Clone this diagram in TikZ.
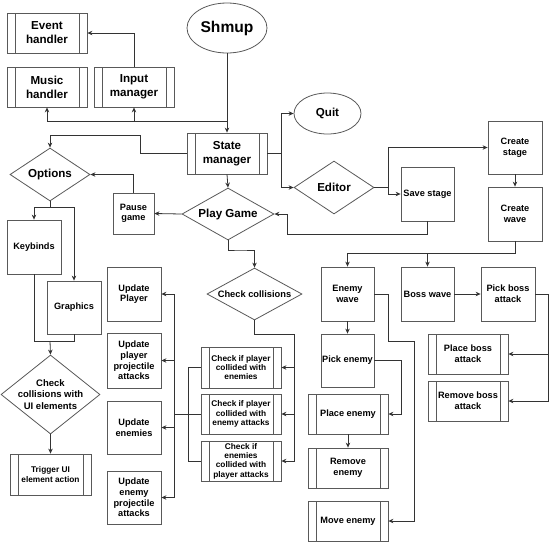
\documentclass[tikz,border=0pt]{standalone}
\usepackage{fontspec}
\setmainfont{Liberation Sans}
\usetikzlibrary{shapes.geometric,arrows.meta}
\begin{document}
\begin{tikzpicture}[x=1pt,y=-1pt,
  base/.style={draw=black!65, line width=0.8pt, fill=white, inner sep=0pt, align=center, text=black, font=\bfseries\fontsize{9.2}{10.6}\selectfont},
  box/.style={base, rectangle},
  sz/.style 2 args={minimum width=#1pt, minimum height=#2pt},
  proc/.style={box, path picture={\draw[draw=black!65, line width=0.8pt]
     ([xshift=8pt]path picture bounding box.north west) -- ([xshift=8pt]path picture bounding box.south west)
     ([xshift=-8pt]path picture bounding box.north east) -- ([xshift=-8pt]path picture bounding box.south east);}},
  big/.style={font=\bfseries\fontsize{11.6}{14}\selectfont},
  small/.style={font=\bfseries\fontsize{8.3}{9.3}\selectfont},
  dia/.style={base, diamond},
  oval/.style={base, ellipse},
  dtxt/.style 2 args={align=center, text=black, inner sep=0pt, font=\bfseries\fontsize{#1}{#2}\selectfont},
  ln/.style={line width=0.8pt, draw=black!80},
  arr/.style={ln, -{Stealth[length=5pt,width=4.5pt]}}
]
\useasboundingbox (0,0) rectangle (554,542);

% top area
\node[oval, sz={80}{50}, font=\bfseries\fontsize{15.6}{18}\selectfont] (shmup) at (227,28) {Shmup};
\node[proc, big, sz={80}{40}] (event) at (47,33) {Event\\handler};
\node[proc, big, sz={80}{40}] (music) at (47,87) {Music\\handler};
\node[proc, big, sz={80}{40}] (input) at (134,87) {Input\\manager};
\node[proc, big, sz={80}{41}] (state) at (227,153.5) {State\\manager};
\node[oval, big, sz={67}{41}] (quit) at (327.5,113.5) {Quit};
\node[dia, sz={80}{53}, label={[dtxt={11.6}{14}]center:Editor}] (editor) at (334,187.5) {};
\node[dia, sz={80}{53}, label={[dtxt={11.6}{14}]center:Options}] (options) at (50,174.5) {};
\node[box, sz={41}{41}] (pause) at (133.5,213.5) {Pause\\game};
\node[dia, sz={92}{52}, label={[dtxt={11.6}{14}]center:Play Game}] (play) at (228,214) {};
\node[box, sz={53}{54}] (savestage) at (427.5,194) {Save stage};
\node[box, sz={54}{53}] (createstage) at (515,147.5) {Create\\stage};
\node[box, sz={54}{54}] (createwave) at (515,214) {Create\\wave};

% left column
\node[box, sz={54}{54}] (keybinds) at (34,247) {Keybinds};
\node[box, sz={54}{53}] (graphics) at (74,307.5) {Graphics};
\node[dia, sz={99}{79}, label={[dtxt={9.5}{11.2}]center:Check\\collisions with\\UI elements}] (checkui) at (50.5,394.5) {};
\node[proc, small, sz={81}{41}] (trigger) at (50.5,474.5) {Trigger UI\\element action};

% update column
\node[box, sz={54}{54}] (updplayer) at (134,294) {Update\\Player};
\node[box, sz={54}{55}] (updproj) at (134,360.5) {Update\\player\\projectile\\attacks};
\node[box, sz={54}{53}] (updenemies) at (134,427.5) {Update\\enemies};
\node[box, sz={54}{53}] (updenemyproj) at (134,497.5) {Update\\enemy\\projectile\\attacks};

% collisions
\node[dia, sz={95}{52}, label={[dtxt={9.3}{11}]center:Check collisions}] (checkcoll) at (254.5,294) {};
\node[proc, small, sz={80}{41}] (cp1) at (241,367.5) {Check if player\\collided with\\enemies};
\node[proc, small, sz={80}{40}] (cp2) at (241,414) {Check if player\\collided with\\enemy attacks};
\node[proc, small, sz={80}{40}] (cp3) at (241,461) {Check if\\enemies\\collided with\\player attacks};

% waves
\node[box, sz={53}{54}] (enemywave) at (347.5,294) {Enemy\\wave};
\node[box, sz={53}{54}] (bosswave) at (427.5,294) {Boss wave};
\node[box, sz={54}{54}] (pickboss) at (508,294) {Pick boss\\attack};
\node[box, sz={53}{53}] (pickenemy) at (347.5,360.5) {Pick enemy};
\node[proc, sz={80}{40}] (placeenemy) at (348,414) {Place enemy};
\node[proc, sz={80}{40}] (removeenemy) at (348,468) {Remove\\enemy};
\node[proc, sz={80}{40}] (moveenemy) at (348,521) {Move enemy};
\node[proc, sz={80}{40}] (placeboss) at (468,354) {Place boss\\attack};
\node[proc, sz={80}{40}] (removeboss) at (468,401) {Remove boss\\attack};

% junction coordinates
\coordinate (j1) at (227,121);
\coordinate (c1) at (140,135);
\coordinate (c2) at (281,153.5);
\coordinate (c3) at (388,187.5);
\coordinate (c4) at (287,234);
\coordinate (c5) at (515,253);
\coordinate (c6) at (548,294);
\coordinate (c7) at (388,341);
\coordinate (c8) at (414,341);
\coordinate (c9) at (401,360.5);
\coordinate (c10) at (240,250);
\coordinate (c11) at (294,334);
\coordinate (c12) at (188,414);
\coordinate (c13) at (174,414);
\coordinate (c14) at (50,207);
\coordinate (c15) at (50,341);

% connectors
\draw[arr] (shmup.south) -- (state.north);
\draw[arr] (j1) -| (music.south);
\draw[arr] (j1) -| (input.south);
\draw[arr] (input.north) |- (event.east);
\draw[arr] (state.west) -| (c1) -| (options.north);
\draw[ln] (state.east) -- (c2);
\draw[arr] (c2) |- (quit.west);
\draw[arr] (c2) |- (editor.west);
\draw[arr] (state.south) -- (play.north);
\draw[ln] (editor.east) -- (c3);
\draw[arr] (c3) |- (createstage.west);
\draw[arr] (c3) |- (savestage.west);
\draw[arr] (savestage.south) |- (c4) |- (play.east);
\draw[arr] (createstage.south) -- (createwave.north);
\draw[arr] (createwave.south) -- (c5) -| (enemywave.north);
\draw[arr] (c5) -| (bosswave.north);
\draw[arr] (bosswave.east) -- (pickboss.west);
\draw[ln] (pickboss.east) -- (c6);
\draw[arr] (c6) |- (placeboss.east);
\draw[arr] (c6) |- (removeboss.east);
\draw[arr] (enemywave.east) -| (c7) -- (c8) |- (moveenemy.east);
\draw[arr] (enemywave.south) -- (pickenemy.north);
\draw[arr] (pickenemy.east) -- (c9) |- (placeenemy.east);
\draw[arr] (placeenemy.south) -- (removeenemy.north);
\draw[arr] (play.west) -- (pause.east);
\draw[arr] (pause.north) |- (options.east);
\draw[arr] (play.south) |- (c10) -| (checkcoll.north);
\draw[ln] (checkcoll.south) |- (c11);
\draw[arr] (c11) |- (cp1.east);
\draw[arr] (c11) |- (cp2.east);
\draw[arr] (c11) |- (cp3.east);
\draw[ln] (cp1.west) -| (c12);
\draw[ln] (cp3.west) -| (c12);
\draw[ln] (cp2.west) -- (c13);
\draw[arr] (c13) |- (updplayer.east);
\draw[arr] (c13) |- (updproj.east);
\draw[arr] (c13) |- (updenemies.east);
\draw[arr] (c13) |- (updenemyproj.east);
\draw[ln] (options.south) -- (c14);
\draw[arr] (c14) -| (keybinds.north);
\draw[arr] (c14) -| (graphics.north);
\draw[ln] (keybinds.south) |- (c15);
\draw[ln] (graphics.south) |- (c15);
\draw[arr] (c15) -- (checkui.north);
\draw[arr] (checkui.south) -- (trigger.north);
\end{tikzpicture}
\end{document}
